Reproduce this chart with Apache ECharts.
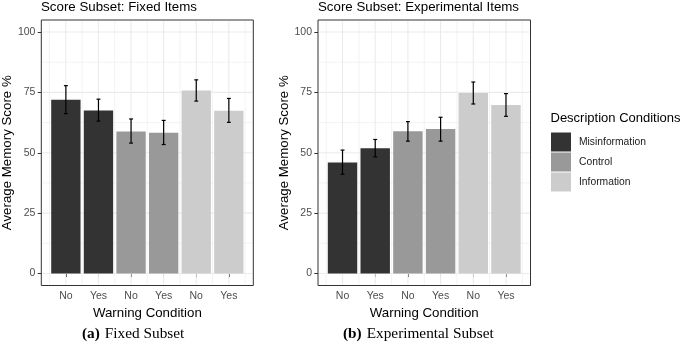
<!DOCTYPE html>
<html>
<head>
<meta charset="utf-8">
<script src="https://cdn.jsdelivr.net/npm/echarts@6/dist/echarts.min.js"></script>
<style>
  html, body { margin: 0; padding: 0; background: #fff; }
  #chart { width: 685px; height: 344px; }
</style>
</head>
<body>
<div id="chart"></div>
<script>
// data
var categories = ['No', 'Yes', 'No', 'Yes', 'No', 'Yes'];
var conditions = ['Misinformation', 'Control', 'Information'];
var condColors = ['#333333', '#999999', '#cccccc'];
var yTicks = [0, 25, 50, 75, 100];
var yMinor = [12.5, 37.5, 62.5, 87.5];
var xMajor = [1, 2, 3, 4, 5, 6];
var xMinor = [0.5, 1.5, 2.5, 3.5, 4.5, 5.5, 6.5];

var fixedMeans = [72.0, 67.5, 58.8, 58.3, 75.8, 67.4];
var fixedLow   = [66.2, 63.1, 54.0, 53.4, 71.4, 62.6];
var fixedHigh  = [77.8, 72.2, 64.0, 63.4, 80.2, 72.5];

var expMeans = [46.0, 51.9, 58.9, 59.8, 74.8, 69.8];
var expLow   = [41.1, 48.3, 54.8, 54.8, 70.2, 65.1];
var expHigh  = [51.1, 55.5, 62.9, 64.7, 79.3, 74.5];

var FONT = 'Liberation Sans';
var panelTop = 20, panelH = 265.5;
var k = panelH / 110;              // px per score unit (-5..105)
var innerTop = panelTop + 5 * k;
var innerH = 100 * k;

var panels = [
  { left: 41.3, width: 212, means: fixedMeans, low: fixedLow, high: fixedHigh },
  { left: 318, width: 212.5, means: expMeans, low: expLow, high: expHigh }
];

var grids = [], xAxes = [], yAxes = [], series = [];

var gridLines = [];
xMajor.forEach(function (v) { gridLines.push([v, 1, 1]); });
xMinor.forEach(function (v) { gridLines.push([v, 1, 0]); });
yTicks.forEach(function (v) { gridLines.push([v, 0, 1]); });
yMinor.forEach(function (v) { gridLines.push([v, 0, 0]); });

panels.forEach(function (p, pi) {
  var u = p.width / 6.5;
  var innerLeft = p.left + 0.25 * u;
  // outer grid = panel box + grid lines
  grids.push({ left: p.left, top: panelTop, width: p.width, height: panelH,
    show: true, z: 10, backgroundColor: 'transparent', borderColor: '#333333', borderWidth: 1 });
  // inner grid = category bands, 0..100
  grids.push({ left: innerLeft, top: innerTop, width: 6 * u, height: innerH });

  xAxes.push({ type: 'value', gridIndex: 2 * pi, min: 0.25, max: 6.75, show: false });
  yAxes.push({ type: 'value', gridIndex: 2 * pi, min: -5, max: 105, show: false });

  xAxes.push({
    type: 'category', gridIndex: 2 * pi + 1, data: categories,
    offset: panelTop + panelH - (innerTop + innerH),
    axisLine: { show: false },
    axisTick: { show: true, alignWithLabel: true, length: 3.7, lineStyle: { color: '#333333' } },
    axisLabel: { color: '#4d4d4d', fontSize: 10.5, fontFamily: FONT, margin: 5 },
    splitLine: { show: false },
    name: 'Warning Condition', nameLocation: 'middle', nameGap: 18,
    nameTextStyle: { color: '#000', fontSize: 13.3, fontFamily: FONT }
  });
  yAxes.push({
    type: 'value', gridIndex: 2 * pi + 1, min: 0, max: 100, interval: 25,
    offset: 0.25 * u,
    axisLine: { show: false },
    axisTick: { show: true, length: 3.7, lineStyle: { color: '#333333' } },
    axisLabel: { color: '#4d4d4d', fontSize: 10.5, fontFamily: FONT, margin: 6 },
    splitLine: { show: false },
    name: 'Average Memory Score %', nameLocation: 'middle', nameGap: 26,
    nameTextStyle: { color: '#000', fontSize: 13.3, fontFamily: FONT }
  });

  series.push({
    type: 'custom', xAxisIndex: 2 * pi, yAxisIndex: 2 * pi, z: 1, silent: true,
    data: gridLines,
    renderItem: function (params, api) {
      var pos = api.value(0), vert = api.value(1), major = api.value(2);
      var a, b;
      if (vert) { a = api.coord([pos, -5]); b = api.coord([pos, 105]); a[1] -= 1; b[1] += 1; }
      else { a = api.coord([0.25, pos]); b = api.coord([6.75, pos]); a[0] += 1; b[0] -= 1; }
      return { type: 'line', shape: { x1: a[0], y1: a[1], x2: b[0], y2: b[1] },
        style: { stroke: '#ebebeb', lineWidth: major ? 1.1 : 0.6 } };
    }
  });

  conditions.forEach(function (c, ci) {
    series.push({
      type: 'bar', name: c, xAxisIndex: 2 * pi + 1, yAxisIndex: 2 * pi + 1,
      stack: 'p' + pi, barWidth: '90%', z: 2,
      itemStyle: { color: condColors[ci] },
      data: p.means.map(function (v, i) { return Math.floor(i / 2) === ci ? v : '-'; })
    });
  });

  series.push({
    type: 'custom', xAxisIndex: 2 * pi + 1, yAxisIndex: 2 * pi + 1, z: 3, silent: true,
    encode: { x: 0, y: [1, 2] },
    data: p.low.map(function (v, i) { return [i, v, p.high[i]]; }),
    renderItem: function (params, api) {
      var lo = api.coord([api.value(0), api.value(1)]);
      var hi = api.coord([api.value(0), api.value(2)]);
      var w = api.size([1, 0])[0] * 0.06;
      var st = { stroke: '#000', lineWidth: 1.2 };
      return { type: 'group', children: [
        { type: 'line', shape: { x1: lo[0], y1: lo[1], x2: hi[0], y2: hi[1] }, style: st },
        { type: 'line', shape: { x1: hi[0] - w, y1: hi[1], x2: hi[0] + w, y2: hi[1] }, style: st },
        { type: 'line', shape: { x1: lo[0] - w, y1: lo[1], x2: lo[0] + w, y2: lo[1] }, style: st }
      ] };
    }
  });
});

var capRich = {
  b: { fontFamily: 'Liberation Serif', fontWeight: 'bold', fontSize: 15.3, color: '#000' },
  n: { fontFamily: 'Liberation Serif', fontWeight: 'normal', fontSize: 15.3, color: '#000' }
};

var option = {
  animation: false,
  textStyle: { fontFamily: FONT },
  title: [
    { text: 'Score Subset: Fixed Items', left: 41, top: 1, padding: 0,
      textStyle: { fontSize: 13.3, fontWeight: 'normal', color: '#000', fontFamily: FONT } },
    { text: 'Score Subset: Experimental Items', left: 318, top: 1, padding: 0,
      textStyle: { fontSize: 13.3, fontWeight: 'normal', color: '#000', fontFamily: FONT } },
    { text: 'Description Conditions', left: 550.5, top: 112, padding: 0,
      textStyle: { fontSize: 13, fontWeight: 'normal', color: '#000', fontFamily: FONT } },
    { text: '{b|(a)} {n|Fixed Subset}', left: 82, top: 325, padding: 0,
      textStyle: { fontWeight: 'normal', rich: capRich } },
    { text: '{b|(b)} {n|Experimental Subset}', left: 343, top: 325, padding: 0,
      textStyle: { fontWeight: 'normal', rich: capRich } }
  ],
  legend: {
    data: conditions, orient: 'vertical', left: 551, top: 132.5, padding: 0,
    icon: 'rect', itemWidth: 20, itemHeight: 19, itemGap: 1, selectedMode: false,
    textStyle: { fontSize: 10.3, color: '#1a1a1a', fontFamily: FONT, padding: [0, 0, 0, 3] }
  },
  grid: grids,
  xAxis: xAxes,
  yAxis: yAxes,
  series: series
};

var myChart = echarts.init(document.getElementById('chart'));
myChart.setOption(option);
</script>
</body>
</html>
